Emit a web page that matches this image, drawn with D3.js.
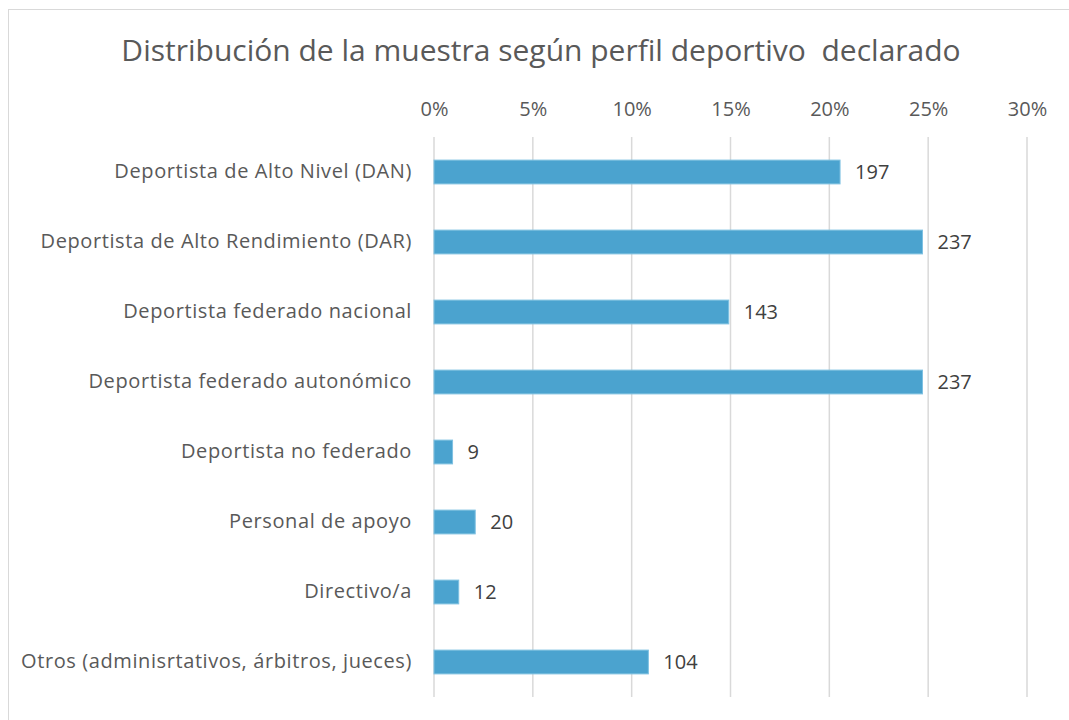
<!DOCTYPE html>
<html>
<head>
<meta charset="utf-8">
<script src="https://cdn.jsdelivr.net/npm/d3@7"></script>
<style>
  body { margin: 0; background: #fff; }
  svg { display: block; font-family: "Open Sans", Lato, sans-serif; }
</style>
</head>
<body>
<div id="chart"></div>
<script>
// datos del gráfico
const categories = [
  "Deportista de Alto Nivel (DAN)",
  "Deportista de Alto Rendimiento (DAR)",
  "Deportista federado nacional",
  "Deportista federado autonómico",
  "Deportista no federado",
  "Personal de apoyo",
  "Directivo/a",
  "Otros (adminisrtativos, árbitros, jueces)"
];
const counts = [197, 237, 143, 237, 9, 20, 12, 104];
const tickValues = [0, 0.05, 0.10, 0.15, 0.20, 0.25, 0.30];
const title = "Distribución de la muestra según perfil deportivo  declarado";

const W = 1069, H = 720;
const margin = {top: 137, right: 42, bottom: 23, left: 434};
const font = "'Open Sans', Lato, sans-serif";

const total = d3.sum(counts);
const rows = categories.map((c, i) => ({cat: c, n: counts[i], p: counts[i] / total}));

const svg = d3.select("#chart").append("svg")
    .attr("width", W)
    .attr("height", H);

// marco
svg.append("rect")
    .attr("x", 8.5).attr("y", 9.5)
    .attr("width", W + 10).attr("height", H + 10)
    .attr("fill", "none")
    .attr("stroke", "#d9d9d9");

svg.append("text")
    .attr("x", 541).attr("y", 61)
    .attr("text-anchor", "middle")
    .attr("font-size", 30)
    .attr("fill", "#595959")
    .style("white-space", "pre")
    .text(title);

const x = d3.scaleLinear()
    .domain([0, 0.30])
    .range([margin.left, W - margin.right]);

const y = d3.scaleBand()
    .domain(categories)
    .range([margin.top, H - margin.bottom])
    .paddingInner(0.66)
    .paddingOuter(0.33);

// líneas de cuadrícula
svg.append("g")
    .selectAll("line")
    .data(tickValues)
    .join("line")
    .attr("x1", d => x(d)).attr("x2", d => x(d))
    .attr("y1", margin.top).attr("y2", H - margin.bottom)
    .attr("stroke", "#d9d9d9")
    .attr("stroke-width", 1.5);

// eje superior
const xAxis = svg.append("g")
    .attr("transform", `translate(0,${margin.top - 21})`)
    .call(d3.axisTop(x).tickValues(tickValues).tickFormat(d3.format(".0%")).tickSize(0).tickPadding(0));
xAxis.select(".domain").remove();
xAxis.selectAll("text")
    .attr("font-size", 20)
    .attr("font-family", font)
    .attr("fill", "#595959");

// eje de categorías
const yAxis = svg.append("g")
    .attr("transform", `translate(${margin.left - 22},0)`)
    .call(d3.axisLeft(y).tickSize(0).tickPadding(0));
yAxis.select(".domain").remove();
yAxis.selectAll("text")
    .attr("font-size", 20)
    .attr("font-family", font)
    .attr("letter-spacing", 0.6)
    .attr("fill", "#595959");

// barras
svg.append("g")
    .selectAll("rect")
    .data(rows)
    .join("rect")
    .attr("x", x(0))
    .attr("y", d => y(d.cat))
    .attr("width", d => x(d.p) - x(0))
    .attr("height", y.bandwidth())
    .attr("fill", "#4ba3cf")
    .attr("stroke", "#7fc1e2")
    .attr("stroke-width", 1);

// etiquetas de valor
svg.append("g")
    .selectAll("text")
    .data(rows)
    .join("text")
    .attr("x", d => x(d.p) + 15)
    .attr("y", d => y(d.cat) + y.bandwidth() / 2)
    .attr("dy", "0.35em")
    .attr("font-size", 20)
    .attr("fill", "#404040")
    .text(d => d.n);
</script>
</body>
</html>
